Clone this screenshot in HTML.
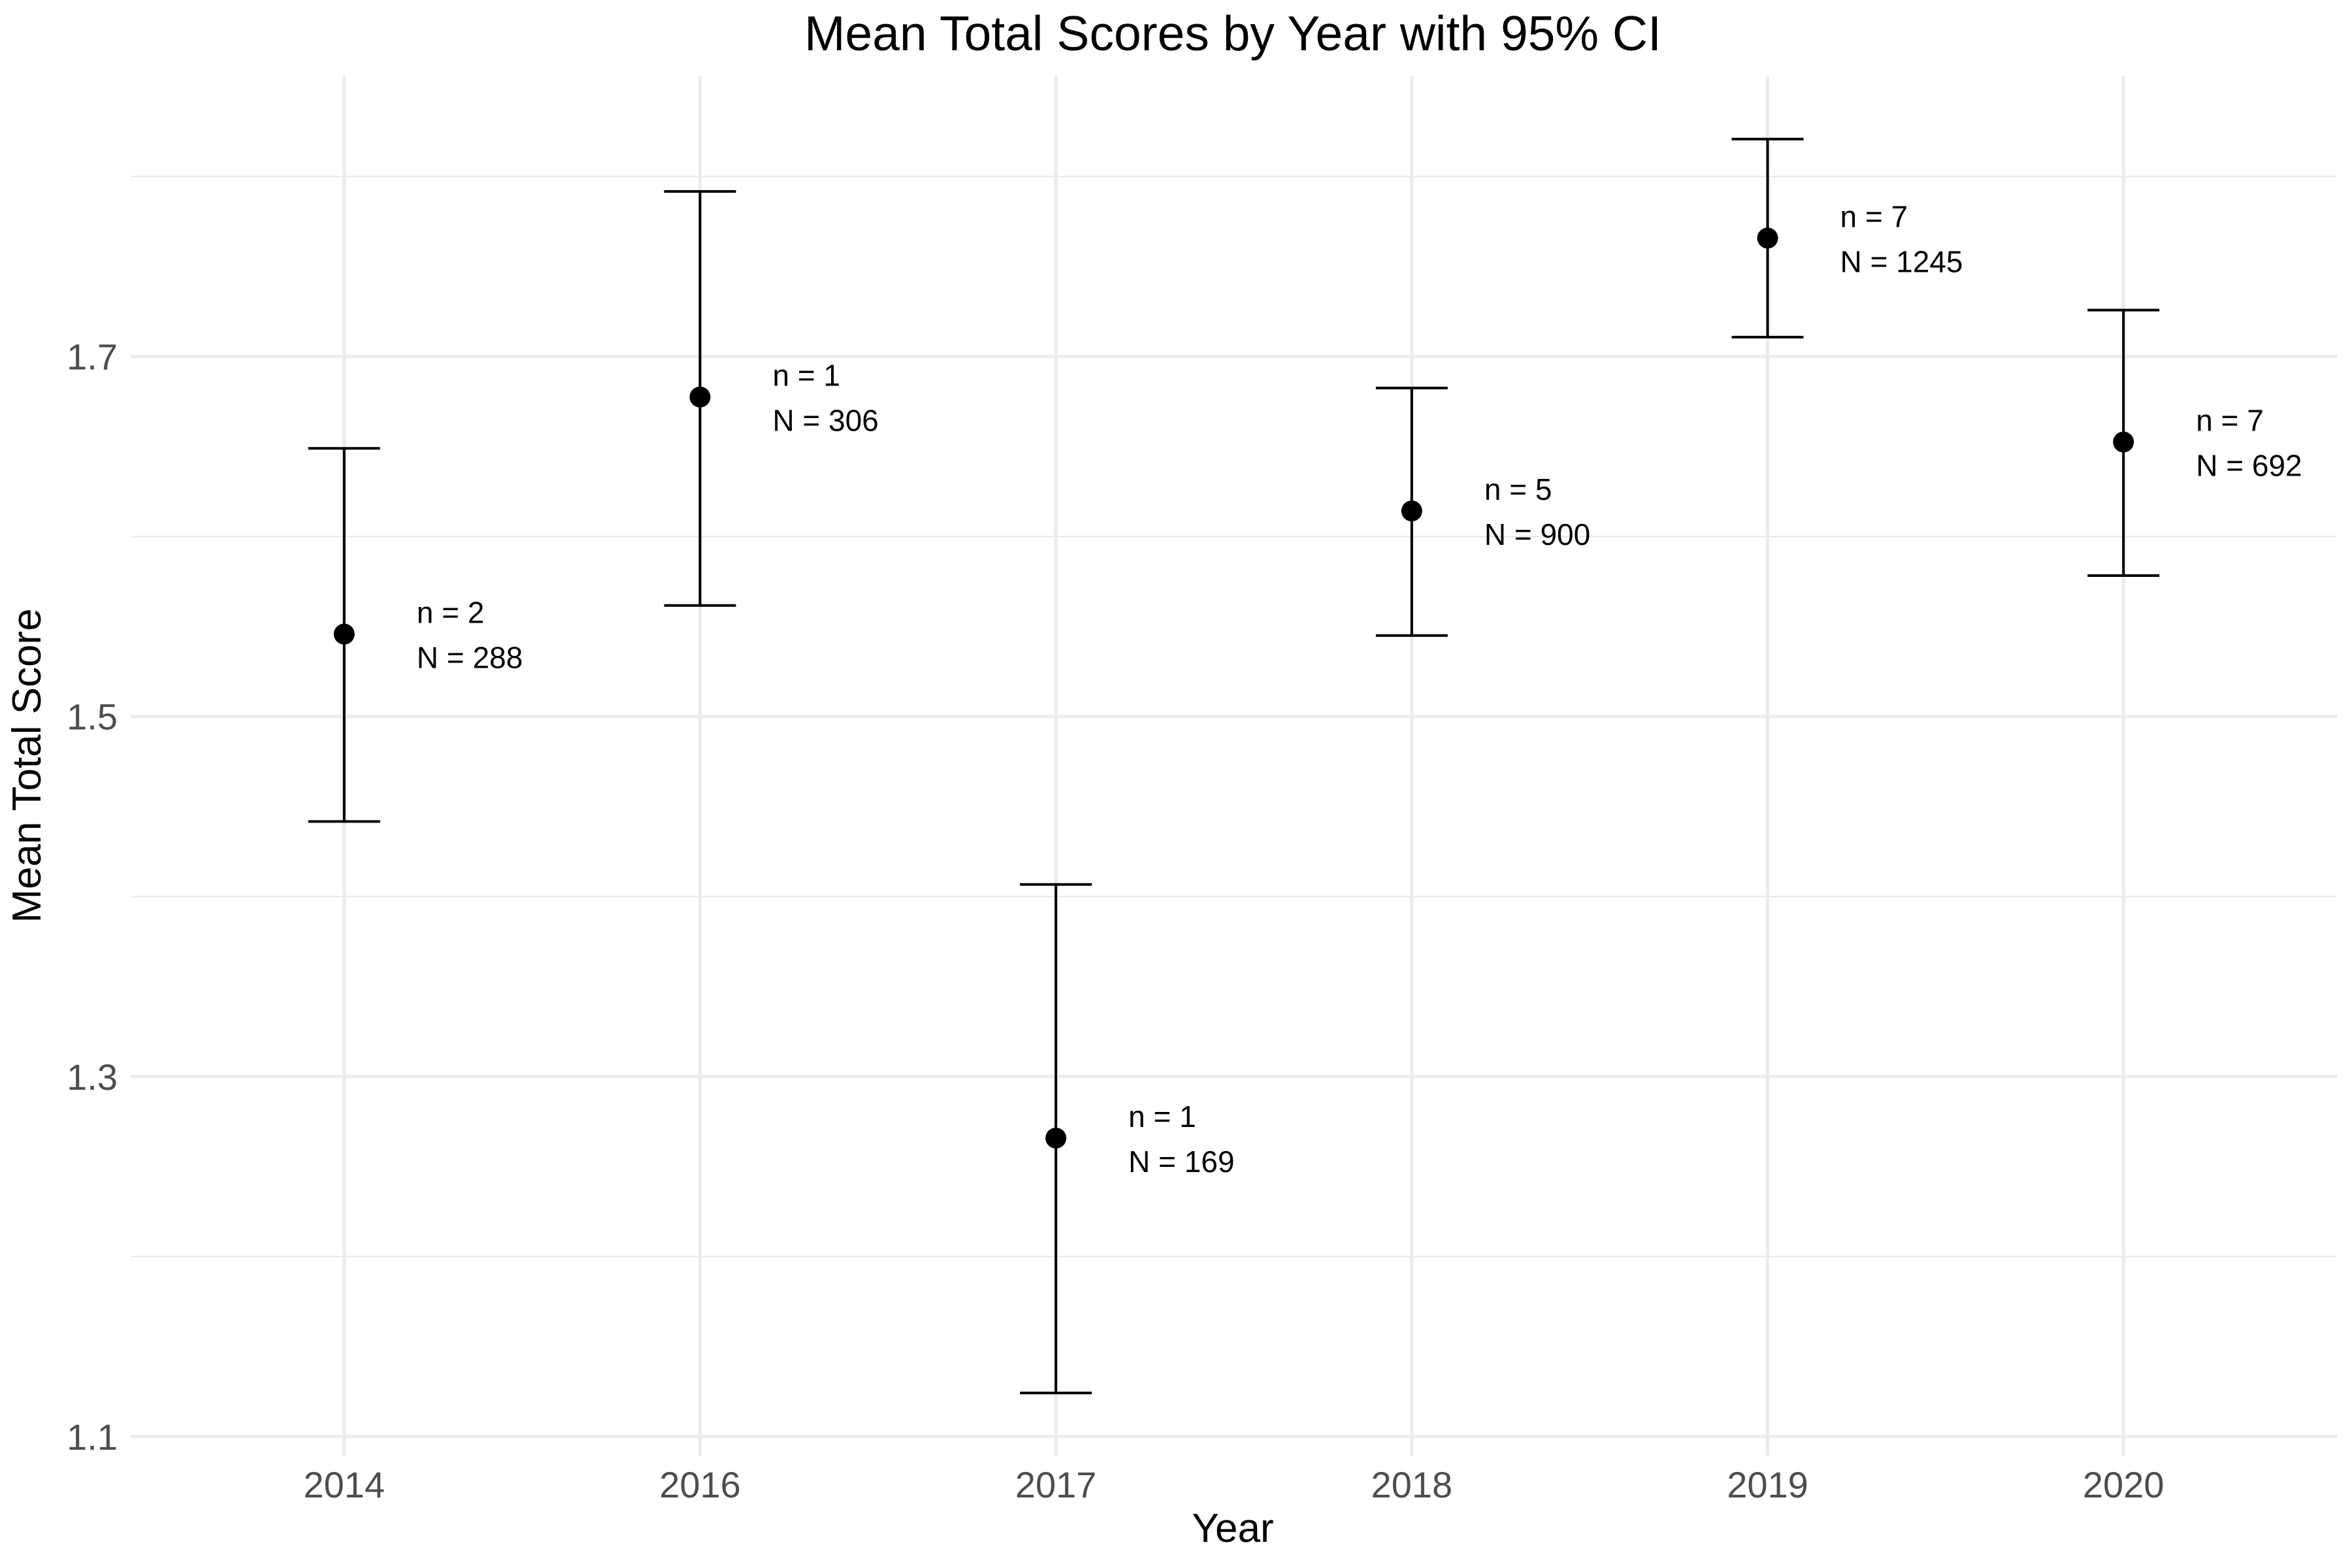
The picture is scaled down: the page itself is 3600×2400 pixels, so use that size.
<!DOCTYPE html>
<html><head><meta charset="utf-8"><style>
html,body{margin:0;padding:0;background:#fff;}
svg{display:block;font-family:"Liberation Sans",Arial,sans-serif;}
</style></head><body>
<svg id="chart" width="3600" height="2400" viewBox="0 0 3600 2400">
<text x="1887" y="77" font-size="75" text-anchor="middle" fill="#000">Mean Total Scores by Year with 95% CI</text>
<g id="grid"></g>
<g id="marks"></g>
<text x="1887" y="2360" font-size="62" text-anchor="middle" fill="#000">Year</text>
<text transform="translate(62,1172) rotate(-90)" font-size="62" text-anchor="middle" fill="#000">Mean Total Score</text>
</svg>
<script>
const years = ["2014","2016","2017","2018","2019","2020"];
const means = [1.5458, 1.6775, 1.2658, 1.6142, 1.7658, 1.6525];
const lowers = [1.4417, 1.5617, 1.1242, 1.5450, 1.7108, 1.5783];
const uppers = [1.6490, 1.7917, 1.4067, 1.6825, 1.8208, 1.7258];
const nStudies = ["2","1","1","5","7","7"];
const nTotal = ["288","306","169","900","1245","692"];
const yMajor = [1.1, 1.3, 1.5, 1.7];
const yMinor = [1.2, 1.4, 1.6, 1.8];

const NS = "http://www.w3.org/2000/svg";
const L = 200, R = 3577, T = 117, B = 2228;
const yMin = 1.0894, yMax = 1.8556;
function yS(v){ return B - (v - yMin) / (yMax - yMin) * (B - T); }
const step = (R - L) / (years.length - 1 + 1.2);
function xS(i){ return L + step * (0.6 + i); }
function mk(tag, attrs, parent){
  const e = document.createElementNS(NS, tag);
  for (const k in attrs) e.setAttribute(k, attrs[k]);
  parent.appendChild(e); return e;
}
const svg = document.getElementById('chart');
const grid = document.getElementById('grid');
const marks = document.getElementById('marks');

yMinor.forEach(v => {
  const l = mk('line', {x1:L, x2:R, y1:yS(v), y2:yS(v), stroke:'#ebebeb', 'stroke-width':2.5}, grid);
  
  
});
yMajor.forEach(v => {
  const l = mk('line', {x1:L, x2:R, y1:yS(v), y2:yS(v), stroke:'#ebebeb', 'stroke-width':5}, grid);
  
  
  const t = mk('text', {x:L-20, y:yS(v)+20, 'font-size':56, 'text-anchor':'end', fill:'#4d4d4d'}, svg);
  t.textContent = v.toFixed(1);
  
  
});
years.forEach((y, i) => {
  const x = xS(i);
  const l = mk('line', {x1:x, x2:x, y1:T, y2:B, stroke:'#ebebeb', 'stroke-width':5}, grid);
  
  
  const t = mk('text', {x:x, y:2292, 'font-size':56, 'text-anchor':'middle', fill:'#4d4d4d'}, svg);
  t.textContent = y;
  
  

  const g = mk('g', {}, marks);
  
  
  const w = 55;
  mk('line', {x1:x, x2:x, y1:yS(uppers[i]), y2:yS(lowers[i]), stroke:'#000', 'stroke-width':4}, g);
  mk('line', {x1:x-w, x2:x+w, y1:yS(uppers[i]), y2:yS(uppers[i]), stroke:'#000', 'stroke-width':4}, g);
  mk('line', {x1:x-w, x2:x+w, y1:yS(lowers[i]), y2:yS(lowers[i]), stroke:'#000', 'stroke-width':4}, g);
  const c = mk('circle', {cx:x, cy:yS(means[i]), r:16, fill:'#000'}, marks);
  
  
  const a1 = mk('text', {x:x+111, y:yS(means[i])-17, 'font-size':46, fill:'#000'}, marks);
  a1.textContent = 'n = ' + nStudies[i];
  
  
  const a2 = mk('text', {x:x+111, y:yS(means[i])+52, 'font-size':46, fill:'#000'}, marks);
  a2.textContent = 'N = ' + nTotal[i];
  
  
});
</script>
</body></html>
